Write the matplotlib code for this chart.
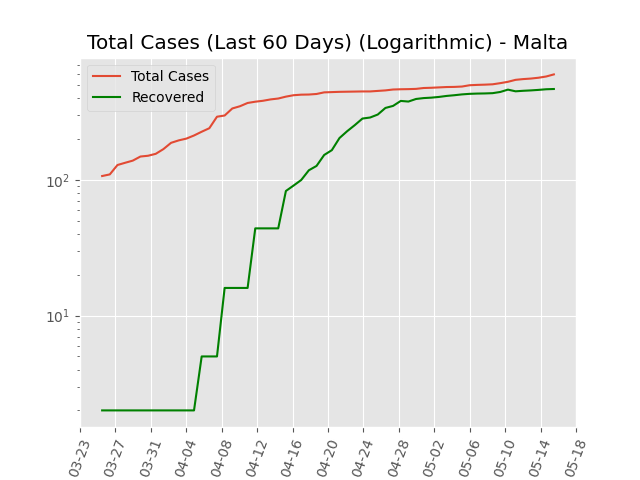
import matplotlib

matplotlib.use("Agg")
import matplotlib.pyplot as plt
import matplotlib.dates as mdates
from matplotlib.ticker import FixedLocator
import pandas as pd

plt.style.use("ggplot")

# 60 samples, evenly spread over the visible date range
dates = pd.date_range("2020-03-25 12:00", "2020-05-15 12:00", periods=60)

total_cases = [
    107, 110, 129, 134, 139, 149, 151, 156, 169, 188,
    196, 202, 213, 227, 241, 293, 299, 337, 350, 370,
    378, 384, 393, 399, 412, 422, 426, 427, 431, 443,
    445, 447, 448, 449, 450, 450, 454, 458, 465, 467,
    468, 470, 477, 479, 482, 485, 486, 489, 500, 503,
    505, 508, 518, 530, 548, 555, 560, 568, 580, 601,
]
recovered = [
    2, 2, 2, 2, 2, 2, 2, 2, 2, 2,
    2, 2, 2, 5, 5, 5, 16, 16, 16, 16,
    44, 44, 44, 44, 83, 91, 100, 118, 127, 153,
    166, 204, 229, 254, 284, 289, 304, 340, 352, 383,
    379, 396, 402, 405, 410, 417, 422, 428, 432, 434,
    435, 437, 446, 464, 451, 455, 458, 462, 467, 469,
]
tick_dates = pd.date_range("2020-03-23", "2020-05-18", freq="4D")

fig, ax = plt.subplots(figsize=(6.4, 4.8), dpi=100)
ax.plot(dates, total_cases, color="#E24A33", label="Total Cases")
ax.plot(dates, recovered, color="green", label="Recovered")
ax.set_yscale("log")
ax.set_title("Total Cases (Last 60 Days) (Logarithmic) - Malta")
ax.xaxis.set_major_locator(FixedLocator(mdates.date2num(tick_dates)))
ax.xaxis.set_major_formatter(mdates.DateFormatter("%m-%d"))
ax.set_xlim(tick_dates[0], tick_dates[-1])
plt.setp(ax.get_xticklabels(), rotation=70)
ax.legend(loc="upper left")

fig.savefig("out.png")
